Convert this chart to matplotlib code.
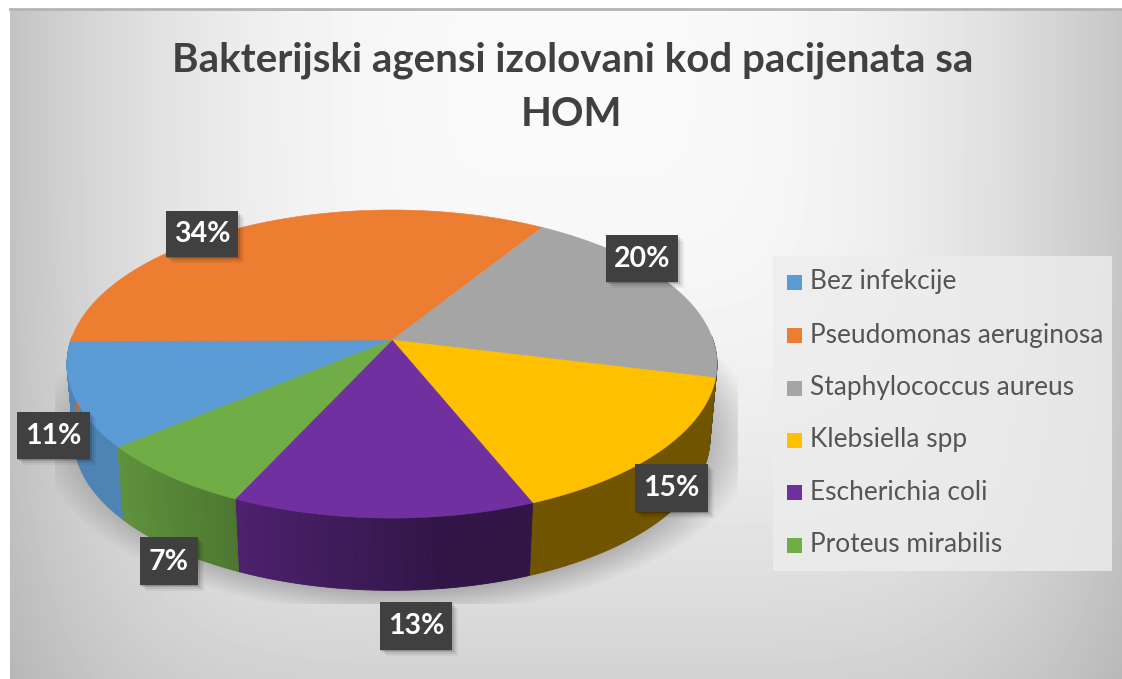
import numpy as np
import matplotlib
matplotlib.use('Agg')
import matplotlib.pyplot as plt
from matplotlib.patches import Polygon, Rectangle

# data
categories = ['Bez infekcije', 'Pseudomonas aeruginosa', 'Staphylococcus aureus',
              'Klebsiella spp', 'Escherichia coli', 'Proteus mirabilis']
values = [11, 34, 20, 15, 13, 7]
colors = ['#5b9bd5', '#ed7d31', '#a5a5a5', '#ffc000', '#7030a0', '#70ad47']
title = 'Bakterijski agensi izolovani kod pacijenata sa\nHOM'

# label boxes in pixels: left, top, right, bottom
label_boxes = [(17, 412, 90, 459), (166, 211, 238, 257), (606, 235, 678, 282),
               (635, 464, 708, 512), (380, 602, 452, 650), (140, 537, 198, 585)]

W, H = 1122, 679
K = 0.156  # perspective
start_angle = 220


def top_xy(t):
    X, Y = np.cos(t), np.sin(t)
    return 392 + 321 * X / (1 + K * Y), 340 - 150.3 * Y / (1 + K * Y)


def bottom_xy(t):
    X, Y = np.cos(t), np.sin(t)
    return 392 + 314 * X / (1 + K * Y), 415 - 148 * Y / (1 + K * Y)


fig = plt.figure(figsize=(W / 100, H / 100), dpi=100, facecolor='white')
ax = fig.add_axes([0, 0, 1, 1])

# background gradient
xx, yy = np.meshgrid(np.arange(10, W), np.arange(9, H))
drop_h = 50 * (np.abs(xx - 570) / 540.0) ** 2.6
drop_v = 36 * ((yy - 80) / 570.0) ** 2
bg = 250 - np.sqrt(drop_h ** 2 + drop_v ** 2)
ax.imshow(bg, cmap='gray', vmin=0, vmax=255, extent=(10, W, H, 9), aspect='auto', zorder=0)
ax.plot([10, W], [9, 9], color='#b4b4b4', lw=2, zorder=1)

# soft shadow under the pie, cut off flat like the original
sx, sy = np.meshgrid(np.arange(55, 738), np.arange(300, 604))
r = np.sqrt(((sx - 397) / 370.0) ** 2 + ((sy - 435) / 185.0) ** 2)
shadow = np.zeros(r.shape + (4,))
shadow[..., :3] = 0.25
shadow[..., 3] = np.clip((0.973 - r) * 2.37, 0, 0.45)
ax.imshow(shadow, extent=(55, 738, 604, 300), aspect='auto', zorder=1)

ax.set_xlim(0, W)
ax.set_ylim(H, 0)
ax.axis('off')

# slices, clockwise from start_angle
angles = start_angle - np.cumsum([0] + values) * 3.6

# side walls first, front part only
for i, c in enumerate(colors):
    ts = np.radians(np.arange(angles[i], angles[i + 1] - 0.5, -0.5))
    rgb = np.array(matplotlib.colors.to_rgb(c))
    for t0, t1 in zip(ts[:-1], ts[1:]):
        if np.sin(t0) > 0.02 and np.sin(t1) > 0.02:
            continue
        f = np.clip(0.5 - 0.45 * np.cos((t0 + t1) / 2), 0.44, 0.85)
        x0, y0 = top_xy(t0)
        x1, y1 = top_xy(t1)
        x2, y2 = bottom_xy(t1)
        x3, y3 = bottom_xy(t0)
        ax.add_patch(Polygon([(x0, y0), (x1, y1), (x2, y2), (x3, y3)], closed=True,
                             fc=rgb * f, ec=rgb * f, lw=0.6, zorder=2))

# top faces
for i, c in enumerate(colors):
    ts = np.radians(np.linspace(angles[i], angles[i + 1], 120))
    x, y = top_xy(ts)
    pts = [(392, 340)] + list(zip(x, y))
    ax.add_patch(Polygon(pts, closed=True, fc=c, ec=c, lw=0.4, zorder=3))

# data labels
for v, (l, t, r_, b) in zip(values, label_boxes):
    for off, a in [(7, 0.05), (5, 0.08), (3, 0.12), (1.5, 0.15)]:
        ax.add_patch(Rectangle((l + off - 1, t + off - 1), r_ - l, b - t, fc='black', ec='none',
                               alpha=a, zorder=4))
    ax.add_patch(Rectangle((l, t), r_ - l, b - t, fc='#404040', ec='none', zorder=5))
    ax.text((l + r_) / 2, (t + b) / 2 + 0.5, f'{v}%', color='white', fontsize=20.5, fontweight='bold',
            family='Lato', ha='center', va='center', zorder=6)

# title
ax.text(573, 60, title.split('\n')[0], fontsize=29, fontweight='bold', family='Lato',
        color='#404040', ha='center', va='center', zorder=6)
ax.text(572, 115, title.split('\n')[1], fontsize=29, fontweight='bold', family='Lato',
        color='#404040', ha='center', va='center', zorder=6)

# legend
ax.add_patch(Rectangle((773, 256), 339, 315, fc='#ededed', ec='none', alpha=0.8, zorder=2))
legend_y = [282, 335, 388, 440, 492, 545]
for name, c, y in zip(categories, colors, legend_y):
    ax.add_patch(Rectangle((787, y - 7.5), 15, 15, fc=c, ec='none', zorder=3))
    ax.text(810, y, name, fontsize=18.9, family='Lato', color='#555555', ha='left',
            va='center', zorder=3)

fig.savefig('out.png', dpi=100)
